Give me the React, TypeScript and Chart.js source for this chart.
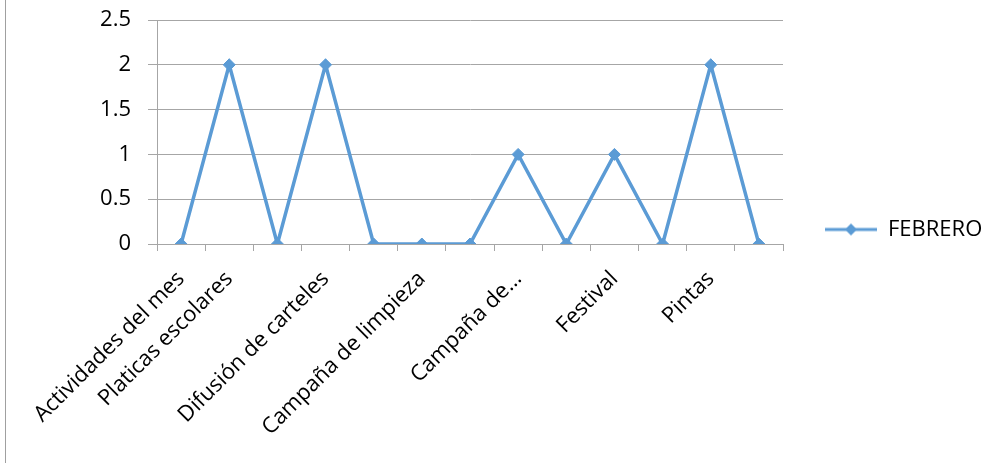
import React, { useEffect, useRef } from "react";
import { Chart, registerables } from "chart.js";

Chart.register(...registerables);

const categories: string[] = [
  "Actividades del mes",
  "Platicas escolares",
  "",
  "Difusión de carteles",
  "",
  "Campaña de limpieza",
  "",
  "Campaña de…",
  "",
  "Festival",
  "",
  "Pintas",
  "",
];
const seriesName = "FEBRERO";
const febreroValues: number[] = [0, 2, 0, 2, 0, 0, 0, 1, 0, 1, 0, 2, 0];
const yMin = 0;
const yMax = 2.5;
const yStep = 0.5;

const BLUE = "#5B9BD5";
const GREY = "#A6A6A6";
const FONT = "'Open Sans', 'DejaVu Sans', sans-serif";
const FONT_SIZE = 22;

function makeLegendIcon(): HTMLCanvasElement {
  const c = document.createElement("canvas");
  c.width = 52;
  c.height = 14;
  const ctx = c.getContext("2d")!;
  ctx.strokeStyle = BLUE;
  ctx.lineWidth = 3;
  ctx.beginPath();
  ctx.moveTo(0, 7);
  ctx.lineTo(52, 7);
  ctx.stroke();
  ctx.fillStyle = BLUE;
  ctx.beginPath();
  ctx.moveTo(26, 1);
  ctx.lineTo(32, 7);
  ctx.lineTo(26, 13);
  ctx.lineTo(20, 7);
  ctx.closePath();
  ctx.fill();
  return c;
}

export default function App() {
  const ref = useRef<HTMLCanvasElement>(null);
  useEffect(() => {
    if (!ref.current) return;
    const icon = makeLegendIcon();
    const chart = new Chart(ref.current, {
      type: "line",
      data: {
        labels: categories,
        datasets: [
          {
            label: seriesName,
            data: febreroValues,
            borderColor: BLUE,
            backgroundColor: BLUE,
            borderWidth: 3.5,
            pointStyle: "rectRot",
            pointRadius: 6,
            pointBorderWidth: 1,
            pointBackgroundColor: BLUE,
            pointBorderColor: BLUE,
            tension: 0,
          },
        ],
      },
      options: {
        responsive: false,
        animation: false,
        layout: { padding: { left: 0, top: 20, right: 0, bottom: 24 } },
        plugins: {
          tooltip: { enabled: false },
          legend: {
            position: "right",
            maxWidth: 201,
            labels: {
              usePointStyle: true,
              pointStyle: icon as any,
              pointStyleWidth: 52,
              boxHeight: 14,
              padding: 42,
              color: "#000",
              font: { family: FONT, size: FONT_SIZE },
            },
          },
        },
        scales: {
          x: {
            type: "category",
            offset: true,
            afterFit: (s: any) => {
              s.height = 195;
              s.paddingLeft = 0;
              s.paddingRight = 0;
            },
            border: { display: true, color: GREY, width: 1 },
            grid: {
              offset: true,
              drawOnChartArea: false,
              drawTicks: true,
              tickLength: 7,
              color: GREY,
            },
            ticks: {
              autoSkip: false,
              maxRotation: 45,
              minRotation: 45,
              padding: 15,
              color: "#000",
              font: { family: FONT, size: FONT_SIZE },
            },
          },
          y: {
            min: yMin,
            max: yMax,
            afterFit: (s: any) => {
              s.width = 157;
              s.paddingTop = 0;
              s.paddingBottom = 0;
            },
            border: { display: true, color: GREY, width: 1 },
            grid: { color: GREY, tickLength: 9, drawTicks: true },
            ticks: {
              stepSize: yStep,
              padding: 17,
              color: "#000",
              font: { family: FONT, size: FONT_SIZE },
              callback: (v: any) => String(v),
            },
          },
        },
      },
    });
    return () => chart.destroy();
  }, []);
  return (
    <div style={{ position: "absolute", left: 0, top: 0, width: 984, height: 463, background: "#fff" }}>
      <div style={{ position: "absolute", left: 5, top: 0, width: 1, height: 463, background: "#A0A0A0" }} />
      <canvas ref={ref} width={984} height={463} style={{ position: "absolute", left: 0, top: 0 }} />
    </div>
  );
}
